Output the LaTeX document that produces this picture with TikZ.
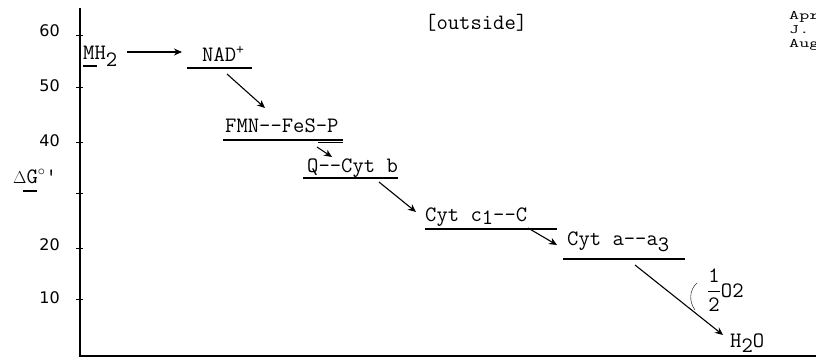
\documentclass[tikz,border=0pt]{standalone}
\usepackage{fontspec}
\usepackage{amsmath}
\usepackage{graphicx}
\newfontfamily\numfont{DejaVu Sans}
\usetikzlibrary{arrows.meta, positioning, calc}

\newcommand{\lowr}[1]{\raisebox{-0.3em}{#1}}
\newcommand{\wide}[1]{\scalebox{1.5}[1]{#1}}

\begin{document}
\begin{tikzpicture}[x=1pt, y=-1pt,
      lvl/.style={anchor=base west, inner sep=0pt, font=\fontsize{22}{24}\ttfamily},
      num/.style={anchor=base east, inner sep=0pt, font=\fontsize{16}{18}\numfont},
      note/.style={anchor=north west, inner sep=0pt, align=left, font=\fontsize{13}{14}\ttfamily},
      bar/.style={line width=1.1pt},
      axis/.style={line width=1.2pt},
      arr/.style={-{Stealth[length=8pt, width=7pt]}, line width=1.1pt},
    ]
    \useasboundingbox (0,0) rectangle (816,358);
    \clip (0,0) rectangle (816,358);
    % axes
    \draw[axis] (80,8) -- (80,357);
    \draw[axis] (80,356) -- (816,356);
    \draw[line width=2pt] (700,356) -- (816,356);
    \foreach \y in {35,87,142,193,248,299} \draw (76,\y) -- (83,\y);
    \foreach \v/\y in {60/37,50/92,40/147,20/250,10/303}
      \node[num] (t\v) at (60,\y) {\v};
    \node[lvl] (dg) at (13,183) {{\fontsize{18}{18}\selectfont$\Delta$}G$^{\circ}$'};
    \draw[bar] (23,191) -- (37,191);
    % levels
    \node[lvl] (mh) at (83,60) {MH\lowr{2}};
    \node[lvl] (nad) at (202,62) {NAD\textsuperscript{+}};
    \node[lvl] (fmn) at (225,133) {FMN-{}-FeS-P};
    \node[lvl] (qcyt) at (307,173) {Q-{}-Cyt b};
    \node[lvl] (cytc) at (425,222) {Cyt c\raisebox{-2pt}{1}-{}-C};
    \node[lvl] (cyta) at (567,245) {Cyt a-{}-a\lowr{3}};
    \node[lvl] (water) at (730,347) {H\raisebox{-5pt}{2}O};
    \node[lvl] (oxy) at (707,297) {$\dfrac{\texttt{1}}{\texttt{2}}$O2};
    \node[lvl] (outside) at (425,30) {[outside]};
    \node[note] (stamp) at (789,11) {\wide{Apr}\\\wide{J.}\\\wide{Aug}};
    % bars
    \draw[bar] (83,66) -- (97,66);
    \draw[bar] (187,68) -- (252,68);
    \draw[bar] (223,140) -- (343,140);
    \draw[bar] (318,142.5) -- (343,142.5);
    \draw[bar] (303,178) -- (398,178);
    \draw[bar] (425,229) -- (557,229);
    \draw[line width=2pt] (518,229) -- (532,229);
    \draw[bar] (563,259) -- (685,259);
    % transfers
    \draw[arr] ([shift={(44,-8)}]mh.base west) -- ([shift={(-20,-10)}]nad.base west);
    \draw[arr] ([shift={(25,12)}]nad.base west) -- ([shift={(40,-25)}]fmn.base west);
    \draw[arr] ([shift={(92,14)}]fmn.base west) -- ([shift={(25,-16)}]qcyt.base west);
    \draw[arr] ([shift={(72,9)}]qcyt.base west) -- ([shift={(-9,-10)}]cytc.base west);
    \draw[arr] ([shift={(103,6)}]cytc.base west) -- ([shift={(-10,0)}]cyta.base west);
    \draw[arr] ([shift={(68,20)}]cyta.base west) -- ([shift={(-7,-12)}]water.base west);
    \draw (697,283) .. controls (689,290) and (689,302) .. (695,310);
  \end{tikzpicture}
\end{document}
